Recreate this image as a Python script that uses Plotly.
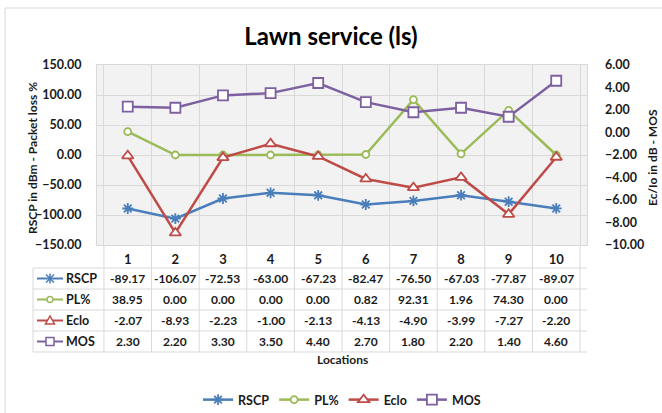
import plotly.graph_objects as go

# ---- data -------------------------------------------------------------
locations = ["1", "2", "3", "4", "5", "6", "7", "8", "9", "10"]
rscp = [-89.17, -106.07, -72.53, -63.00, -67.23, -82.47, -76.50, -67.03, -77.87, -89.07]
pl_pct = [38.95, 0.00, 0.00, 0.00, 0.00, 0.82, 92.31, 1.96, 74.30, 0.00]
ecio = [-2.07, -8.93, -2.23, -1.00, -2.13, -4.13, -4.90, -3.99, -7.27, -2.20]
mos = [2.30, 2.20, 3.30, 3.50, 4.40, 2.70, 1.80, 2.20, 1.40, 4.60]

series_names = ["RSCP", "PL%", "Eclo", "MOS"]
series_values = [rscp, pl_pct, ecio, mos]
series_axes = ["y", "y", "y2", "y2"]
series_colors = ["#4a7ebb", "#9bbb59", "#be4b48", "#7d60a0"]
series_symbols = ["asterisk-open", "circle", "triangle-up", "square"]
series_sizes = [9, 7, 10, 10]

W, H = 662, 413
L, R, T, B = 97, 587, 65, 245          # plot area in pixels
FONT = "Lato"
GRID = "#d9d9d9"
TXT = "#1a1a1a"


def px_x(px):
    return (px - L) / (R - L)


def px_y(py):
    return (B - py) / (B - T)


fig = go.Figure()

for name, vals, ax, col, sym, sz in zip(series_names, series_values, series_axes,
                                         series_colors, series_symbols, series_sizes):
    fill = col if sym == "asterisk-open" else "white"
    fig.add_trace(go.Scatter(
        x=locations, y=vals, name=f"<b>{name}</b>", yaxis=ax, mode="lines+markers",
        line=dict(color=col, width=2.5),
        marker=dict(symbol=sym, size=sz, color=fill, line=dict(color=col, width=1.8)),
        cliponaxis=False,
    ))

shapes = []
annotations = []

# outer chart frame
shapes.append(dict(type="rect", xref="paper", yref="paper",
                   x0=px_x(5), x1=px_x(700), y0=px_y(8), y1=px_y(450),
                   line=dict(color=GRID, width=1), fillcolor="rgba(0,0,0,0)", layer="below"))

# data table grid
row_lines = [268, 289, 310, 331, 352]
for py in row_lines:
    shapes.append(dict(type="line", xref="paper", yref="paper",
                       x0=px_x(33), x1=1, y0=px_y(py), y1=px_y(py),
                       line=dict(color=GRID, width=1)))
for k in range(len(locations) + 1):
    shapes.append(dict(type="line", xref="x", yref="paper",
                       x0=k - 0.5, x1=k - 0.5, y0=0, y1=px_y(352),
                       line=dict(color=GRID, width=1)))
shapes.append(dict(type="line", xref="paper", yref="paper",
                   x0=px_x(33), x1=px_x(33), y0=px_y(268), y1=px_y(352),
                   line=dict(color=GRID, width=1)))

# table rows: legend key + name + values
row_centers = [278.5, 299.5, 320.5, 341.5]
key_paths = {
    "asterisk-open": "M -4 -4 L 4 4 M -4 4 L 4 -4 M 0 -5 L 0 5",
    "triangle-up": "M -4.5 -3.5 L 4.5 -3.5 L 0 4.5 Z",
    "square": "M -4 -4 L 4 -4 L 4 4 L -4 4 Z",
}
for name, vals, col, sym, cy in zip(series_names, series_values, series_colors,
                                     series_symbols, row_centers):
    yc = px_y(cy)
    shapes.append(dict(type="line", xref="paper", yref="paper",
                       x0=px_x(37), x1=px_x(63), y0=yc, y1=yc,
                       line=dict(color=col, width=2)))
    cx = px_x(50)
    if sym == "circle":
        shapes.append(dict(type="circle", xref="paper", yref="paper",
                           xsizemode="pixel", ysizemode="pixel",
                           xanchor=cx, yanchor=yc, x0=-3, x1=3, y0=-3, y1=3,
                           line=dict(color=col, width=1.5), fillcolor="white"))
    else:
        shapes.append(dict(type="path", xref="paper", yref="paper",
                           xsizemode="pixel", ysizemode="pixel",
                           xanchor=cx, yanchor=yc, path=key_paths[sym],
                           line=dict(color=col, width=1.5),
                           fillcolor="white" if sym != "asterisk-open" else None))
    annotations.append(dict(xref="paper", yref="paper", x=px_x(64), y=yc,
                            text=f"<b>{name}</b>", showarrow=False,
                            xanchor="left", yanchor="middle",
                            font=dict(family=FONT, size=12.5, color=TXT)))
    for i, v in enumerate(vals):
        annotations.append(dict(xref="x", yref="paper", x=i, y=yc,
                                text=f"<b>{v:.2f}</b>", showarrow=False,
                                xanchor="center", yanchor="middle",
                                font=dict(family=FONT, size=12, color=TXT)))

# axis titles
annotations.append(dict(xref="paper", yref="paper", x=0.5, y=px_y(359),
                        text="<b>Locations</b>", showarrow=False,
                        xanchor="center", yanchor="middle",
                        font=dict(family=FONT, size=12, color=TXT)))
annotations.append(dict(xref="paper", yref="paper", x=px_x(32), y=px_y(158),
                        text="<b>RSCP in dBm - Packet loss %</b>", showarrow=False,
                        textangle=-90, xanchor="center", yanchor="middle",
                        font=dict(family=FONT, size=12, color=TXT)))
annotations.append(dict(xref="paper", yref="paper", x=px_x(652), y=px_y(158),
                        text="<b>Ec/Io in dB - MOS</b>", showarrow=False,
                        textangle=-90, xanchor="center", yanchor="middle",
                        font=dict(family=FONT, size=12, color=TXT)))

fig.update_layout(
    width=W, height=H,
    margin=dict(l=L, r=W - R, t=T, b=H - B, pad=0, autoexpand=False),
    paper_bgcolor="white",
    plot_bgcolor="#f2f2f2",
    font=dict(family=FONT, size=12, color=TXT),
    title=dict(text="<b>Lawn service (ls)</b>", x=0.5, xanchor="center",
               y=1 - 37 / H, yanchor="middle",
               font=dict(family=FONT, size=24, color="#000000")),
    showlegend=True,
    legend=dict(orientation="h", x=0.5, xanchor="center", y=px_y(400), yanchor="middle",
                font=dict(family=FONT, size=12.5, color=TXT), bgcolor="rgba(0,0,0,0)",
                itemwidth=30, tracegroupgap=0),
    xaxis=dict(type="category", tickson="boundaries", showgrid=True, gridcolor=GRID,
               gridwidth=1, showline=True, linecolor=GRID, mirror=True, ticks="",
               tickfont=dict(family=FONT, size=13, color=TXT), zeroline=False,
               tickprefix="<b>", ticksuffix="</b>", ticklabelstandoff=2),
    yaxis=dict(range=[-150, 150], dtick=50, tick0=-150, tickformat=".2f",
               showgrid=True, gridcolor=GRID, zeroline=False, showline=True,
               linecolor=GRID, mirror=True, ticks="",
               tickfont=dict(family=FONT, size=12.5, color=TXT),
               tickprefix="<b>", ticksuffix="</b>",
               ticklabelstandoff=12),
    yaxis2=dict(range=[-10, 6], dtick=2, tick0=-10, tickformat=".2f",
                overlaying="y", side="right", showgrid=False, zeroline=False,
                ticks="", tickfont=dict(family=FONT, size=12.5, color=TXT),
                tickprefix="<b>", ticksuffix="</b>",
                ticklabelstandoff=17),
    shapes=shapes,
    annotations=annotations,
)

fig.write_html("out.html")
